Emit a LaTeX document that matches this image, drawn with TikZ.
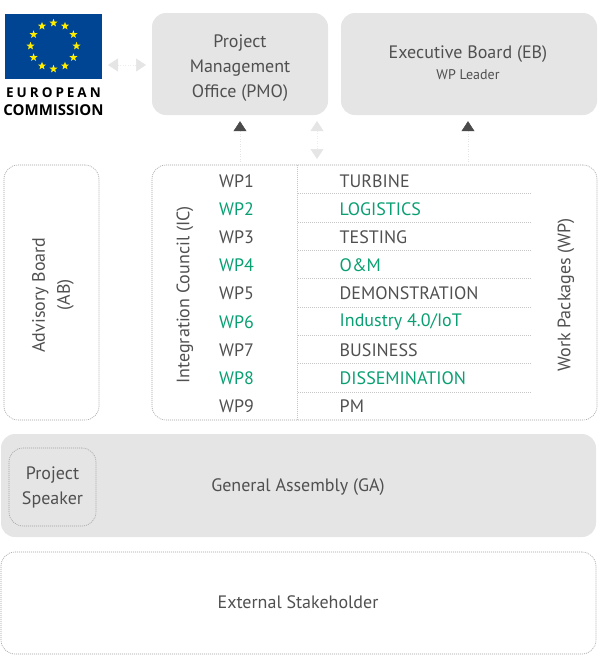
\documentclass[tikz,border=0pt]{standalone}
\usepackage{fontspec}
\setmainfont{PT Sans}
\newfontfamily\logofont[LetterSpace=22]{Open Sans}
\newfontfamily\logotightfont{Open Sans}
\usetikzlibrary{arrows.meta,shapes.geometric}
\definecolor{boxgray}{HTML}{E5E5E5}
\definecolor{txtgray}{HTML}{505050}
\definecolor{wpgreen}{HTML}{0A9F72}
\definecolor{headdark}{HTML}{4A4A4A}
\definecolor{linelight}{HTML}{E4E4E4}
\definecolor{euflag}{HTML}{004494}
\definecolor{eustar}{HTML}{FFED00}
\tikzset{
  solidbox/.style={draw=none,fill=boxgray,rounded corners=14pt,text=txtgray,align=center,inner sep=0pt},
  dotbox/.style={draw=gray!75,line width=0.6pt,dash pattern=on 1pt off 1pt,rounded corners=14pt,text=txtgray,align=center,inner sep=0pt},
  boxtext/.style={text=txtgray,inner sep=0pt,align=center},
  wpno/.style={text=txtgray,inner sep=0pt},
  wpname/.style={text=txtgray,inner sep=0pt,anchor=west},
  rowline/.style={draw=gray!45,line width=0.5pt,dash pattern=on 1pt off 1pt},
  linkdark/.style={draw=linelight,line width=0.5pt,dash pattern=on 1pt off 1.5pt,-{Triangle[width=13pt,length=10pt,color=headdark,fill=headdark]},shorten >=6pt},
  linklight/.style={draw=linelight!70,line width=0.5pt,dash pattern=on 1pt off 1.5pt,{Triangle[width=13pt,length=10pt,color=boxgray,fill=boxgray]}-{Triangle[width=13pt,length=10pt,color=boxgray,fill=boxgray]}}
}
\begin{document}
\begin{tikzpicture}[x=1pt, y=-1pt, font=\fontsize{18}{25}\selectfont]
\useasboundingbox (0,0) rectangle (600,662);

% flag and logo
\fill[euflag] (5,14) rectangle (102,79);
\foreach \a in {0,30,...,330}
\node[star,star points=5,star point ratio=2.4,fill=eustar,inner sep=0pt,minimum size=8.5pt] at ({53.5+23*cos(\a)},{46+23*sin(\a)}) {};
\node[inner sep=0pt,text=black] (eulogo) at (53.5,92.5) {\fontsize{13.5}{15}\selectfont\logofont\bfseries EUROPEAN};
\node[inner sep=0pt,text=black] (eulogob) at (53.5,110.5) {\fontsize{15}{15}\selectfont\logotightfont\bfseries COMMISSION};

% top boxes
\node[solidbox,minimum width=176pt,minimum height=102pt] (pmo) at (240,64) {};
\node[boxtext] (pmotext) at (240,68) {Project\\Management\\Office (PMO)};
\node[solidbox,minimum width=256pt,minimum height=102pt] (eb) at (469,64) {};
\node[boxtext] (ebtext) at (468,62.5) {Executive Board (EB)\\[-4pt]{\fontsize{14}{16}\selectfont WP Leader}};

% middle boxes
\node[dotbox,minimum width=95pt,minimum height=255pt] (ab) at (51.5,292.5) {};
\node[boxtext,rotate=90] (abtext) at (53,295) {Advisory Board\\(AB)};
\node[dotbox,minimum width=445pt,minimum height=255pt] (wp) at (374.5,292.5) {};
\node[boxtext,rotate=90] (ic) at (185,295) {Integration Council (IC)};
\node[boxtext,rotate=90] (wptext) at (566,295) {Work Packages (WP)};

% lines of the table
\coordinate (split) at (297.5,0);
\draw[rowline] (wp.north -| split) -- (wp.south -| split);
\foreach \y in {193.5,222,250,278.5,307,335,363.5,392}
\draw[rowline] (298,\y) -- (532,\y);

% table
\foreach \n/\t/\c [count=\i from 0] in {1/TURBINE/txtgray,2/LOGISTICS/wpgreen,3/TESTING/txtgray,4/O\&M/wpgreen,5/DEMONSTRATION/txtgray,6/{Industry 4.0/IoT}/wpgreen,7/BUSINESS/txtgray,8/DISSEMINATION/wpgreen,9/PM/txtgray}
{
\node[wpno,text=\c] (no\n) at (236.5,{180.8+28.2*\i}) {WP\n};
\node[wpname,text=\c] (name\n) at (339.5,{180.8+28.2*\i}) {\t};
}

% bottom boxes
\node[solidbox,minimum width=595pt,minimum height=103pt] (ga) at (298.5,485.5) {};
\node[boxtext] (gatext) at (298,487) {General Assembly (GA)};
\node[dotbox,minimum width=87pt,minimum height=78pt] (speaker) at (52.5,487) {Project\\Speaker};
\node[dotbox,minimum width=595pt,minimum height=102pt] (ext) at (298.5,603) {};
\node[boxtext] (exttext) at (298,602) {External Stakeholder};

% arrows
\coordinate (a1) at (240,0);
\coordinate (a3) at (468,0);
\coordinate (lefta) at (108,65);
\coordinate (leftb) at (146,65);
\coordinate (midtop) at (317,121);
\coordinate (midbot) at (317,159);
\draw[linkdark] (wp.north -| a1) -- (pmo.south -| a1);
\draw[linkdark] (wp.north -| a3) -- (eb.south -| a3);
\draw[linklight] (midtop) -- (midbot);
\draw[linklight] (lefta) -- (leftb);

\end{tikzpicture}
\end{document}
